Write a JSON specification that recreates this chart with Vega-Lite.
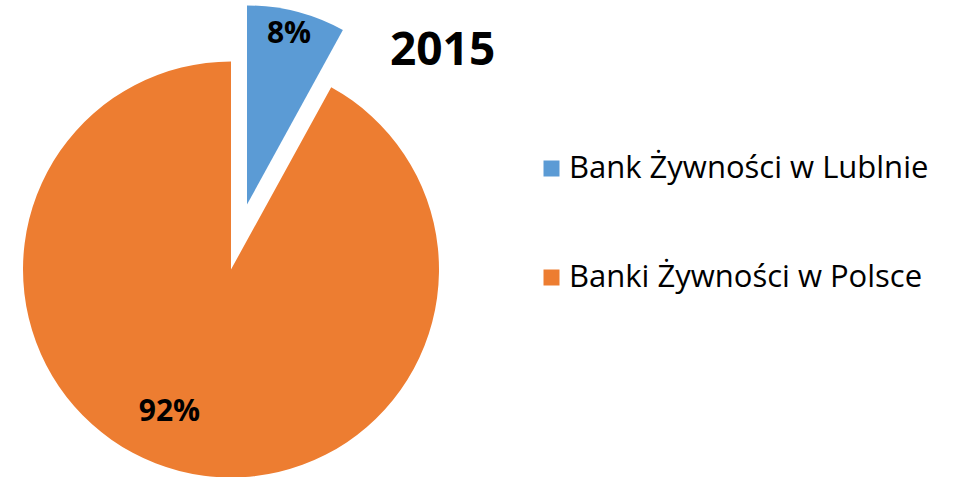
{
  "$schema": "https://vega.github.io/schema/vega-lite/v6.json",
  "width": 416,
  "height": 415,
  "autosize": {"type": "none"},
  "padding": {"left": 23, "top": 62, "right": 527, "bottom": 0},
  "background": "white",
  "title": {"text": "2015", "anchor": "start", "frame": "group", "dx": 367, "dy": 105, "fontSize": 46, "fontWeight": "bold", "font": "Open Sans", "color": "black", "offset": 0, "baseline": "alphabetic"},
  "config": {"view": {"stroke": null}, "font": "Open Sans"},
  "data": {"values": [
    {"name": "Bank Żywności w Lublnie", "value": 8, "label": "8%"},
    {"name": "Banki Żywności w Polsce", "value": 92, "label": "92%"}
  ]},
  "encoding": {
    "theta": {"field": "value", "type": "quantitative", "stack": true},
    "color": {
      "field": "name", "type": "nominal",
      "scale": {"domain": ["Bank Żywności w Lublnie", "Banki Żywności w Polsce"], "range": ["#5B9BD5", "#ED7D31"]},
      "legend": null
    }
  },
  "layer": [
    {
      "mark": {"type": "arc", "outerRadius": 208},
      "encoding": {
        "opacity": {"condition": {"test": "datum.name === 'Bank Żywności w Lublnie'", "value": 0}, "value": 1},
        "color": {
          "field": "name", "type": "nominal",
          "scale": {"domain": ["Bank Żywności w Lublnie", "Banki Żywności w Polsce"], "range": ["#5B9BD5", "#ED7D31"]},
          "legend": {
            "title": null, "orient": "none", "legendX": 513, "legendY": 91,
            "symbolType": "square", "symbolSize": 256, "symbolStrokeWidth": 0, "symbolOpacity": 1,
            "labelFontSize": 31, "labelFont": "Open Sans", "labelColor": "black", "labelOffset": 2,
            "rowPadding": 77, "labelLimit": 500
          }
        }
      }
    },
    {
      "mark": {"type": "arc", "outerRadius": 199, "xOffset": 16, "yOffset": -65},
      "encoding": {
        "opacity": {"condition": {"test": "datum.name === 'Bank Żywności w Lublnie'", "value": 1}, "value": 0}
      }
    },
    {
      "mark": {"type": "text", "radius": 147, "dx": -25, "fontSize": 30, "fontWeight": "bold", "font": "Open Sans", "color": "black", "baseline": "middle", "align": "center"},
      "encoding": {
        "text": {"field": "label"},
        "color": {"value": "black"},
        "opacity": {"condition": {"test": "datum.name === 'Bank Żywności w Lublnie'", "value": 0}, "value": 1}
      }
    },
    {
      "mark": {"type": "text", "radius": 177, "dx": 14, "dy": -64, "fontSize": 30, "fontWeight": "bold", "font": "Open Sans", "color": "black", "baseline": "middle", "align": "center"},
      "encoding": {
        "text": {"field": "label"},
        "color": {"value": "black"},
        "opacity": {"condition": {"test": "datum.name === 'Bank Żywności w Lublnie'", "value": 1}, "value": 0}
      }
    }
  ]
}
